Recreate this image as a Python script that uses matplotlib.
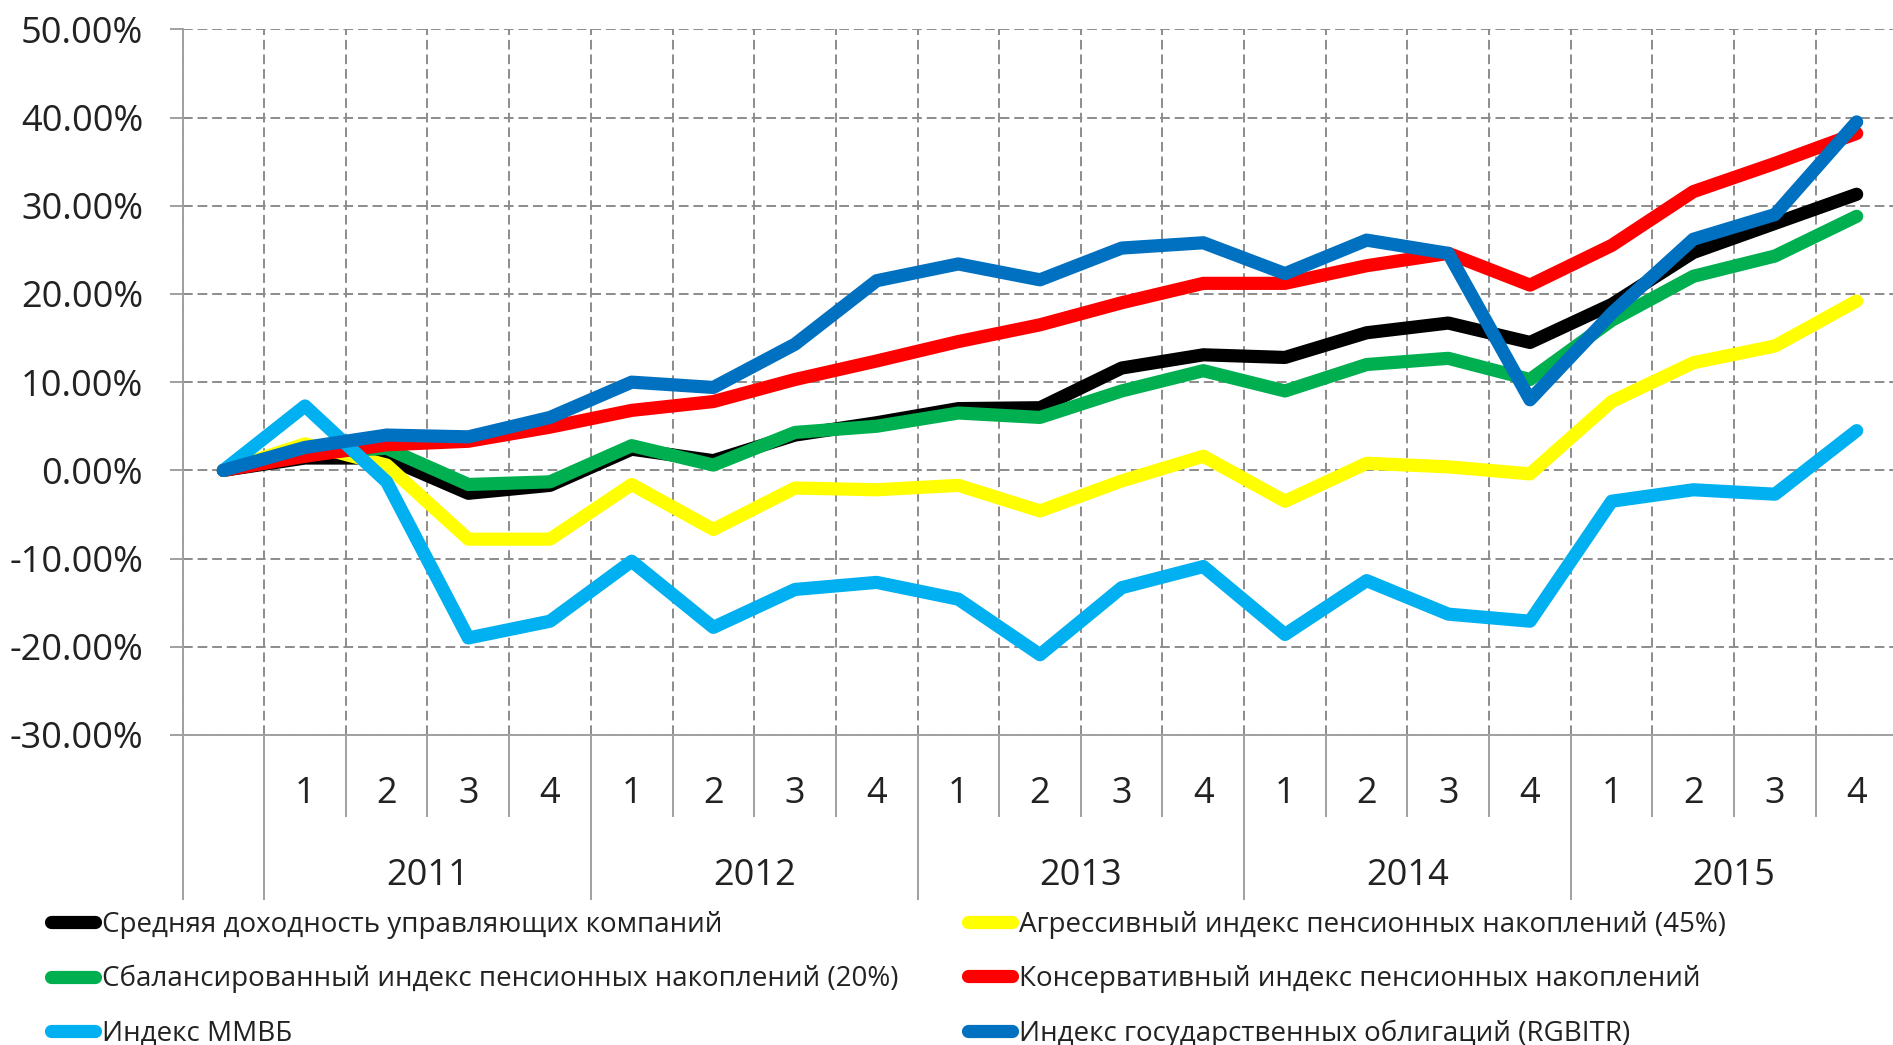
import numpy as np
import matplotlib.pyplot as plt
from matplotlib.lines import Line2D

plt.rcParams['font.family'] = ['Open Sans', 'DejaVu Sans']

# category axis: first point is the start (no label), then quarters of each year
quarters = ['', '1', '2', '3', '4', '1', '2', '3', '4', '1', '2', '3', '4',
            '1', '2', '3', '4', '1', '2', '3', '4']
years = ['2011', '2012', '2013', '2014', '2015']

# cumulative returns, %
avg_uk = [0, 1.4, 1.4, -2.6, -1.7, 2.4, 1.1, 4.0, 5.4, 7.0, 7.1, 11.6, 13.1,
          12.8, 15.6, 16.7, 14.5, 18.8, 24.7, 28.0, 31.3]
aggressive = [0, 3.0, 0.6, -7.8, -7.8, -1.6, -6.7, -2.0, -2.2, -1.7, -4.6, -1.2, 1.6,
              -3.5, 0.8, 0.4, -0.4, 7.8, 12.2, 14.1, 19.2]
balanced = [0, 2.0, 2.5, -1.6, -1.3, 2.8, 0.6, 4.3, 5.0, 6.5, 6.0, 9.0, 11.3,
            9.0, 12.0, 12.7, 10.3, 17.0, 22.0, 24.3, 28.8]
conservative = [0, 1.6, 2.9, 3.3, 4.9, 6.8, 7.8, 10.3, 12.4, 14.6, 16.5, 19.0, 21.2,
                21.2, 23.2, 24.6, 21.0, 25.5, 31.6, 34.8, 38.2]
micex = [0, 7.3, -1.3, -19.0, -17.1, -10.3, -17.8, -13.5, -12.7, -14.6, -20.9, -13.3, -10.9,
         -18.6, -12.5, -16.3, -17.1, -3.5, -2.2, -2.7, 4.5]
rgbitr = [0, 2.6, 4.0, 3.8, 6.0, 10.0, 9.4, 14.3, 21.5, 23.4, 21.6, 25.2, 25.8,
          22.3, 26.1, 24.6, 8.0, 17.8, 26.2, 29.0, 39.5]

labels = ['Средняя доходность управляющих компаний',
          'Агрессивный индекс пенсионных накоплений (45%)',
          'Сбалансированный индекс пенсионных накоплений (20%)',
          'Консервативный индекс пенсионных накоплений',
          'Индекс ММВБ',
          'Индекс государственных облигаций (RGBITR)']
colors = ['#000000', '#FFFF00', '#00B050', '#FF0000', '#00B0F0', '#0070C0']
series = [avg_uk, aggressive, balanced, conservative, micex, rgbitr]

grid_col = '#8C8C8C'
axis_col = '#A0A0A0'
text_col = '#222222'

fig = plt.figure(figsize=(18.93, 10.45), dpi=100)
ax = fig.add_axes([182.5 / 1893, 310 / 1045, 1715 / 1893, 705.7 / 1045])

x = np.arange(len(quarters))
handles = []
for vals, col, lab in zip(series, colors, labels):
    line, = ax.plot(x, vals, color=col, lw=9.5, solid_capstyle='round',
                    solid_joinstyle='round', label=lab)
    handles.append(line)

ax.set_xlim(-0.5, len(quarters) - 0.5)
ax.set_ylim(-30, 50)
yt = np.arange(-30, 51, 10)
ax.set_yticks(yt)
ax.set_yticklabels([f'{v:.2f}%' for v in yt])
ax.set_xticks([])
ax.set_xticks(np.arange(-0.5, len(quarters), 1), minor=True)
ax.set_axisbelow(True)
ax.grid(axis='y', which='major', color=grid_col, ls=(0, (5, 2.5)), lw=1.4)
ax.grid(axis='x', which='minor', color=grid_col, ls=(0, (5, 2.5)), lw=1.4)
ax.tick_params(axis='x', which='both', length=0)
ax.tick_params(axis='y', length=9.4, width=1.4, color=axis_col, pad=19,
               labelsize=26, labelcolor=text_col)
for s in ['top', 'right']:
    ax.spines[s].set_visible(False)
for s in ['left', 'bottom']:
    ax.spines[s].set_color(axis_col)
    ax.spines[s].set_linewidth(1.4)

# multi-level category labels
trans = ax.get_xaxis_transform()
for i, q in enumerate(quarters):
    ax.text(i, -0.0964, q, transform=trans, ha='center', va='baseline',
            fontsize=26, color=text_col)
for k, yr in enumerate(years):
    ax.text(2.5 + 4 * k, -0.2126, yr, transform=trans, ha='center', va='baseline',
            fontsize=26, color=text_col)
for b in np.arange(-0.5, len(quarters), 1):
    long_line = b == -0.5 or (b - 0.5) % 4 == 0
    ax.plot([b, b], [0, -0.2324 if long_line else -0.1148], transform=trans,
            color=axis_col, lw=1.4, clip_on=False)

leg_kw = dict(loc='center left', frameon=False, fontsize=20, handlelength=1.6,
              handletextpad=0.25, labelspacing=0.95, borderpad=0, borderaxespad=0,
              labelcolor=text_col)
fig.legend(handles=[handles[0], handles[2], handles[4]],
           bbox_to_anchor=(51 / 1893, 0.063), **leg_kw)
fig.legend(handles=[handles[1], handles[3], handles[5]],
           bbox_to_anchor=(968 / 1893, 0.063), **leg_kw)

plt.savefig('out.png', dpi=100)
